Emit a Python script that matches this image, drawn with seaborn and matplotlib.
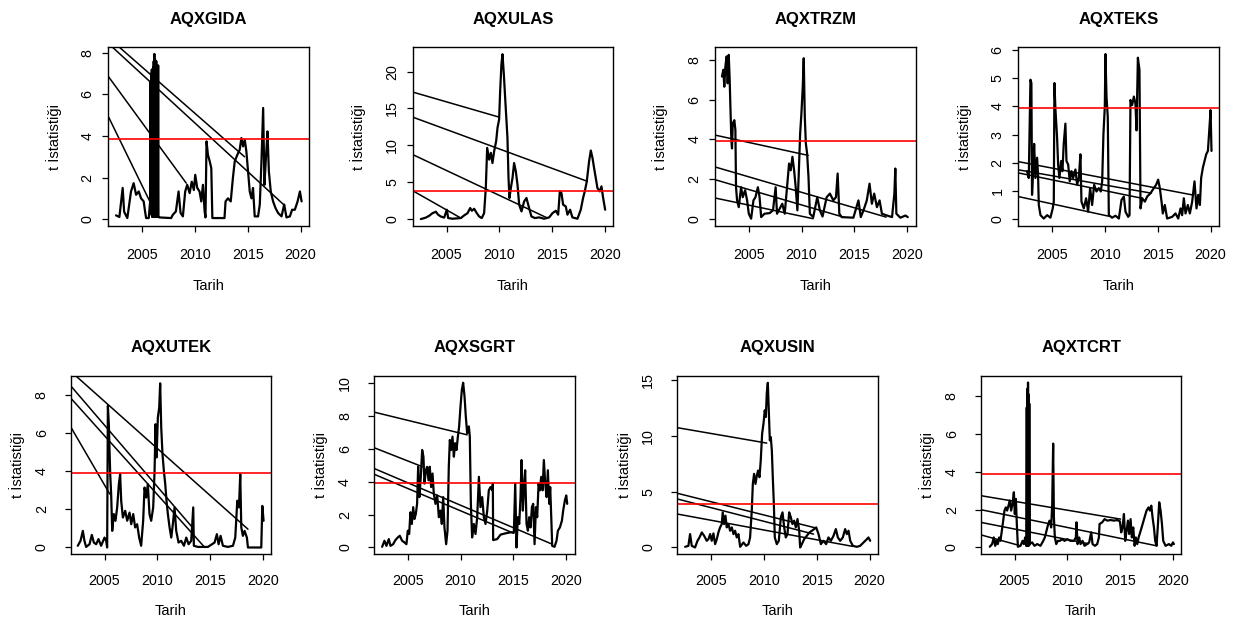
import matplotlib
matplotlib.use('Agg')
import matplotlib.pyplot as plt
import seaborn as sns


# values: (year, t statistic)
gida = [(2002.53, 0.18), (2002.85, 0.1), (2003.16, 1.5), (2003.3, 0.35), (2003.6, 0.05),
        (2003.95, 1.33), (2004.2, 1.73), (2004.43, 1.17), (2004.68, 1.33), (2004.9, 1.0),
        (2005.15, 0.85), (2005.28, 0.37), (2005.38, 0.05), (2005.63, 0.05), (2005.76, 0.85),
        (2005.80, 6.6), (2005.83, 0.4), (2005.86, 7.0), (2005.89, 0.2), (2005.92, 7.2),
        (2005.95, 0.1), (2005.98, 7.1), (2006.01, 0.2), (2006.04, 7.3), (2006.07, 0.1),
        (2006.10, 7.6), (2006.13, 0.3), (2006.16, 7.95), (2006.19, 0.1), (2006.22, 7.7),
        (2006.25, 0.2), (2006.28, 7.5), (2006.31, 0.1), (2006.34, 7.6), (2006.37, 0.2),
        (2006.40, 7.4), (2006.43, 0.1), (2006.46, 7.2), (2006.49, 0.2), (2006.52, 7.4),
        (2006.55, 0.1), (2006.65, 0.08), (2007.75, 0.05), (2007.9, 0.2), (2008.2, 0.37),
        (2008.45, 1.33), (2008.64, 0.3), (2008.86, 0.13), (2009.08, 1.33), (2009.27, 1.65),
        (2009.5, 1.25), (2009.7, 1.8), (2009.9, 1.4), (2010.03, 2.13), (2010.22, 1.5),
        (2010.44, 1.33), (2010.6, 0.85), (2010.76, 1.65), (2010.92, 0.37), (2011.0, 0.08),
        (2011.1, 3.74), (2011.23, 3.1), (2011.4, 2.78), (2011.55, 2.45), (2011.65, 0.05),
        (2012.8, 0.05), (2012.9, 0.85), (2013.13, 1.0), (2013.39, 0.85), (2013.6, 2.0),
        (2013.77, 2.78), (2014.02, 3.1), (2014.24, 3.34), (2014.4, 3.9), (2014.56, 3.5),
        (2014.72, 3.82), (2014.87, 3.26), (2015.03, 2.3), (2015.19, 1.33), (2015.35, 1.0),
        (2015.5, 1.5), (2015.66, 0.13), (2015.98, 0.13), (2016.14, 0.7), (2016.3, 2.78),
        (2016.46, 5.35), (2016.58, 1.65), (2016.74, 3.1), (2016.87, 4.22), (2017.0, 2.3),
        (2017.18, 1.33), (2017.4, 0.85), (2017.63, 0.53), (2017.88, 0.29), (2018.2, 0.13),
        (2018.45, 0.7), (2018.67, 0.08), (2018.99, 0.13), (2019.2, 0.45), (2019.46, 0.45),
        (2019.72, 0.85), (2019.94, 1.33), (2020.1, 0.85)]
gida_seg = [(2001.8, 4.94, 2005.7, 0.88), (2001.8, 6.87, 2009.18, 1.73),
            (2001.8, 8.46, 2018.5, 0.65), (2001.8, 8.74, 2014.7, 3.0)]

ulas = [(2002.57, 0.0), (2003.04, 0.2), (2003.36, 0.45), (2003.67, 0.8), (2003.99, 1.0),
        (2004.2, 0.6), (2004.46, 0.35), (2004.78, 0.2), (2005.03, 1.27), (2005.16, 0.14),
        (2005.57, 0.05), (2006.36, 0.14), (2006.67, 0.5), (2006.99, 0.8), (2007.24, 1.5),
        (2007.4, 1.13), (2007.62, 1.4), (2007.87, 0.8), (2008.09, 0.36), (2008.34, 0.14),
        (2008.56, 0.8), (2008.72, 4.2), (2008.85, 9.66), (2009.04, 8.07), (2009.2, 8.98),
        (2009.35, 7.6), (2009.51, 9.2), (2009.7, 10.57), (2009.83, 12.4), (2009.98, 13.5),
        (2010.08, 17.4), (2010.2, 21.0), (2010.3, 22.36), (2010.43, 19.6), (2010.55, 16.5),
        (2010.68, 13.3), (2010.77, 11.0), (2010.87, 5.6), (2010.96, 2.86), (2011.09, 4.2),
        (2011.25, 5.6), (2011.4, 7.6), (2011.56, 6.5), (2011.72, 4.67), (2011.88, 1.95),
        (2012.1, 1.04), (2012.35, 2.4), (2012.57, 2.86), (2012.82, 1.5), (2013.04, 0.36),
        (2013.36, 0.14), (2013.77, 0.23), (2014.24, 0.05), (2014.72, 0.23), (2015.03, 0.8),
        (2015.35, 1.13), (2015.57, 0.6), (2015.73, 3.76), (2015.88, 3.54), (2016.04, 1.95),
        (2016.29, 1.72), (2016.45, 0.6), (2016.7, 1.27), (2016.92, 0.23), (2017.4, 0.05),
        (2017.71, 1.27), (2017.93, 2.86), (2018.09, 3.76), (2018.28, 5.1), (2018.5, 7.85),
        (2018.66, 9.3), (2018.82, 8.3), (2018.97, 6.94), (2019.13, 5.58), (2019.29, 4.2),
        (2019.51, 3.76), (2019.67, 4.44), (2019.83, 2.86), (2020.02, 1.27)]
ulas_seg = [(2001.8, 17.23, 2009.98, 13.83), (2001.8, 13.83, 2018.34, 5.12),
            (2001.8, 8.75, 2014.56, 0.14), (2001.8, 3.85, 2006.36, 0.14)]

trzm = [(2002.46, 7.16), (2002.59, 7.5), (2002.68, 6.65), (2002.78, 7.66), (2002.9, 8.17),
        (2003.0, 6.82), (2003.1, 8.25), (2003.19, 7.0), (2003.25, 5.8), (2003.35, 3.97),
        (2003.41, 3.55), (2003.48, 4.8), (2003.63, 4.97), (2003.73, 4.47), (2003.79, 1.6),
        (2003.89, 0.94), (2004.05, 0.6), (2004.27, 1.6), (2004.43, 1.1), (2004.65, 1.45),
        (2004.84, 0.94), (2005.0, 0.27), (2005.22, 0.02), (2005.44, 0.94), (2005.63, 1.1),
        (2005.86, 1.6), (2006.02, 1.1), (2006.17, 0.1), (2006.49, 0.27), (2006.97, 0.3),
        (2007.29, 0.44), (2007.54, 1.6), (2007.67, 0.27), (2007.92, 0.52), (2008.17, 0.77),
        (2008.4, 0.27), (2008.62, 1.6), (2008.81, 2.79), (2008.97, 2.45), (2009.13, 3.13),
        (2009.29, 2.45), (2009.44, 1.6), (2009.6, 0.44), (2009.73, 2.29), (2009.86, 4.3),
        (2009.98, 5.3), (2010.11, 6.66), (2010.2, 8.08), (2010.3, 5.14), (2010.4, 3.8),
        (2010.52, 3.29), (2010.65, 2.12), (2010.78, 0.27), (2011.1, 0.1), (2011.48, 1.1),
        (2011.73, 0.44), (2011.98, 0.13), (2012.37, 1.1), (2012.68, 1.28), (2013.0, 0.94),
        (2013.25, 1.1), (2013.41, 2.29), (2013.57, 0.27), (2013.79, 0.1), (2014.9, 0.07),
        (2015.38, 0.94), (2015.6, 0.1), (2015.86, 0.44), (2016.17, 0.94), (2016.43, 1.78),
        (2016.65, 0.77), (2016.87, 1.28), (2017.13, 0.6), (2017.38, 0.94), (2017.6, 0.27),
        (2018.08, 0.18), (2018.56, 0.1), (2018.78, 1.28), (2018.87, 2.54), (2018.97, 0.27),
        (2019.35, 0.07), (2019.83, 0.18), (2020.05, 0.1)]
trzm_seg = [(2001.8, 4.22, 2010.62, 3.2), (2001.8, 2.62, 2018.0, 0.1),
            (2001.8, 1.98, 2013.95, 0.1), (2001.8, 1.06, 2011.1, 0.02)]

teks = [(2002.63, 1.7), (2002.79, 1.46), (2002.95, 4.95), (2003.04, 4.83), (2003.1, 0.86),
        (2003.2, 1.7), (2003.3, 2.67), (2003.42, 1.46), (2003.58, 2.18), (2003.67, 1.58),
        (2003.74, 0.5), (2003.9, 0.14), (2004.21, 0.02), (2004.53, 0.14), (2004.84, 0.05),
        (2005.06, 0.38), (2005.16, 0.62), (2005.22, 4.83), (2005.32, 3.87), (2005.47, 2.9),
        (2005.57, 1.94), (2005.69, 1.46), (2005.85, 2.06), (2005.98, 1.7), (2006.1, 2.67),
        (2006.26, 3.39), (2006.36, 2.06), (2006.52, 1.94), (2006.67, 1.34), (2006.83, 1.7),
        (2006.99, 1.46), (2007.21, 1.76), (2007.37, 1.22), (2007.53, 1.46), (2007.68, 2.3),
        (2007.78, 0.62), (2008.0, 0.38), (2008.22, 0.74), (2008.41, 0.26), (2008.6, 1.1),
        (2008.79, 0.5), (2008.98, 1.22), (2009.2, 0.98), (2009.42, 1.1), (2009.61, 0.98),
        (2009.74, 1.34), (2009.86, 3.02), (2009.99, 3.99), (2010.05, 5.86), (2010.15, 4.35),
        (2010.27, 3.63), (2010.37, 0.14), (2010.68, 0.05), (2011.0, 0.12), (2011.32, 0.02),
        (2011.57, 0.68), (2011.79, 0.8), (2011.95, 0.26), (2012.2, 0.08), (2012.33, 0.14),
        (2012.42, 4.23), (2012.58, 4.05), (2012.74, 4.35), (2012.89, 4.1), (2012.99, 3.15),
        (2013.12, 5.73), (2013.27, 5.3), (2013.37, 0.38), (2013.53, 0.74), (2013.78, 0.62),
        (2014.0, 0.8), (2014.32, 0.92), (2014.63, 1.1), (2014.85, 1.22), (2015.04, 1.4),
        (2015.2, 1.1), (2015.36, 0.62), (2015.48, 0.2), (2015.67, 0.5), (2015.89, 0.02),
        (2016.37, 0.08), (2016.68, 0.2), (2016.94, 0.02), (2017.16, 0.38), (2017.31, 0.14),
        (2017.47, 0.74), (2017.63, 0.2), (2017.85, 0.5), (2018.04, 0.2), (2018.26, 0.62),
        (2018.48, 1.34), (2018.67, 0.38), (2018.83, 0.86), (2018.99, 0.5), (2019.11, 1.46),
        (2019.27, 1.82), (2019.43, 2.06), (2019.59, 2.3), (2019.75, 2.42), (2019.9, 3.27),
        (2020.0, 3.87), (2020.09, 2.42)]
teks_seg = [(2001.8, 2.04, 2018.26, 0.86), (2001.8, 1.75, 2014.4, 0.92),
            (2001.8, 1.64, 2013.5, 0.74), (2001.8, 0.8, 2010.4, 0.1)]

utek = [(2002.47, 0.09), (2002.73, 0.35), (2002.95, 0.87), (2003.1, 0.35), (2003.26, 0.03),
        (2003.58, 0.17), (2003.8, 0.66), (2003.99, 0.26), (2004.21, 0.17), (2004.43, 0.44),
        (2004.68, 0.09), (2005.0, 0.52), (2005.16, 0.35), (2005.25, 0.0), (2005.32, 7.42),
        (2005.41, 6.46), (2005.54, 3.84), (2005.63, 2.8), (2005.73, 0.87), (2005.88, 1.75),
        (2006.04, 1.4), (2006.2, 2.1), (2006.36, 3.32), (2006.48, 3.84), (2006.58, 2.45),
        (2006.74, 1.57), (2006.96, 1.92), (2007.15, 1.4), (2007.37, 1.83), (2007.53, 1.22),
        (2007.72, 1.75), (2007.9, 1.05), (2008.09, 1.22), (2008.28, 0.52), (2008.47, 0.09),
        (2008.66, 1.4), (2008.79, 3.14), (2008.95, 2.62), (2009.1, 3.32), (2009.26, 1.75),
        (2009.42, 1.4), (2009.61, 2.1), (2009.74, 4.02), (2009.83, 6.46), (2009.93, 4.72),
        (2010.05, 6.81), (2010.18, 7.34), (2010.27, 8.6), (2010.37, 6.29), (2010.49, 4.89),
        (2010.62, 4.02), (2010.75, 3.32), (2010.87, 2.45), (2011.0, 1.75), (2011.16, 1.05),
        (2011.32, 0.52), (2011.47, 1.22), (2011.63, 2.1), (2011.79, 0.87), (2012.01, 0.26),
        (2012.26, 0.35), (2012.52, 0.09), (2012.74, 0.52), (2012.96, 0.17), (2013.21, 0.35),
        (2013.4, 2.1), (2013.46, 0.09), (2013.84, 0.03), (2014.79, 0.03), (2015.42, 0.26),
        (2015.64, 0.7), (2015.8, 0.17), (2015.99, 0.61), (2016.21, 0.09), (2016.68, 0.03),
        (2017.16, 0.09), (2017.38, 0.52), (2017.57, 2.45), (2017.73, 2.1), (2017.85, 3.84),
        (2017.95, 1.05), (2018.1, 0.61), (2018.26, 0.87), (2018.48, 0.52), (2018.58, 0.0),
        (2019.84, 0.0), (2019.94, 2.18), (2020.06, 1.4)]
utek_seg = [(2001.8, 6.32, 2005.5, 2.8), (2001.8, 7.83, 2014.5, 0.0),
            (2001.8, 8.47, 2013.4, 1.0), (2001.8, 9.23, 2018.58, 0.96)]

sgrt = [(2002.57, 0.04), (2002.79, 0.41), (2002.98, 0.1), (2003.2, 0.51), (2003.36, 0.1),
        (2003.61, 0.2), (2003.83, 0.45), (2004.05, 0.61), (2004.24, 0.71), (2004.46, 0.41),
        (2004.68, 0.31), (2004.87, 0.2), (2005.0, 1.02), (2005.13, 0.82), (2005.25, 2.14),
        (2005.38, 1.43), (2005.51, 2.45), (2005.63, 1.73), (2005.76, 2.04), (2005.88, 2.65),
        (2005.98, 4.9), (2006.1, 3.06), (2006.23, 4.29), (2006.36, 5.92), (2006.48, 5.51),
        (2006.58, 3.88), (2006.71, 4.69), (2006.83, 4.9), (2006.96, 4.08), (2007.08, 4.9),
        (2007.21, 3.67), (2007.34, 4.49), (2007.46, 3.27), (2007.62, 2.65), (2007.78, 3.16),
        (2007.94, 1.84), (2008.09, 2.24), (2008.22, 1.43), (2008.35, 3.06), (2008.47, 1.22),
        (2008.63, 0.2), (2008.76, 1.02), (2008.88, 4.9), (2008.98, 6.53), (2009.1, 5.92),
        (2009.23, 6.73), (2009.36, 5.51), (2009.48, 6.33), (2009.61, 5.92), (2009.74, 6.73),
        (2009.86, 7.35), (2009.99, 8.57), (2010.12, 9.59), (2010.24, 10.0), (2010.37, 9.18),
        (2010.49, 7.96), (2010.62, 6.94), (2010.78, 7.35), (2010.87, 6.73), (2010.97, 2.65),
        (2011.09, 0.61), (2011.25, 1.43), (2011.41, 0.82), (2011.57, 1.84), (2011.73, 4.29),
        (2011.88, 2.45), (2012.04, 3.06), (2012.2, 1.84), (2012.36, 1.43), (2012.52, 2.24),
        (2012.67, 3.47), (2012.83, 3.67), (2012.99, 3.47), (2013.05, 3.88), (2013.08, 0.45),
        (2013.46, 0.51), (2013.78, 0.78), (2014.25, 0.86), (2014.73, 0.92), (2015.04, 0.92),
        (2015.17, 3.88), (2015.29, 0.0), (2015.42, 1.84), (2015.55, 1.43), (2015.67, 3.06),
        (2015.77, 5.31), (2015.89, 2.24), (2016.02, 3.88), (2016.11, 4.69), (2016.24, 1.43),
        (2016.37, 1.02), (2016.49, 1.84), (2016.62, 1.22), (2016.75, 2.45), (2016.87, 2.65),
        (2017.0, 0.2), (2017.13, 2.45), (2017.25, 1.84), (2017.38, 3.88), (2017.5, 3.47),
        (2017.63, 4.29), (2017.76, 3.47), (2017.88, 5.31), (2018.01, 3.88), (2018.14, 3.06),
        (2018.26, 4.69), (2018.39, 2.65), (2018.48, 3.67), (2018.58, 1.84), (2018.67, 0.1),
        (2018.89, 0.04), (2019.08, 0.41), (2019.21, 1.02), (2019.4, 1.22), (2019.59, 1.63),
        (2019.71, 2.24), (2019.87, 2.86), (2020.0, 3.16), (2020.09, 2.65)]
sgrt_seg = [(2001.8, 8.22, 2010.62, 6.84), (2001.8, 6.06, 2006.4, 4.9),
            (2001.8, 4.8, 2018.67, 0.2), (2001.8, 4.45, 2015.04, 0.86)]

usin = [(2002.54, 0.06), (2002.85, 0.15), (2003.01, 1.2), (2003.17, 0.15), (2003.48, 0.0),
        (2003.71, 0.6), (2003.9, 0.9), (2004.12, 1.35), (2004.34, 1.05), (2004.59, 0.6),
        (2004.75, 0.75), (2004.91, 1.2), (2005.06, 0.6), (2005.22, 1.26), (2005.38, 0.3),
        (2005.54, 0.75), (2005.69, 1.35), (2005.85, 1.8), (2006.01, 2.1), (2006.1, 3.15),
        (2006.23, 2.1), (2006.36, 2.85), (2006.48, 1.8), (2006.64, 2.1), (2006.8, 1.5),
        (2006.96, 1.8), (2007.12, 1.2), (2007.27, 1.5), (2007.43, 0.9), (2007.59, 1.2),
        (2007.75, 0.06), (2008.06, 0.45), (2008.32, 0.15), (2008.54, 0.3), (2008.69, 0.9),
        (2008.85, 3.3), (2008.95, 5.7), (2009.07, 6.6), (2009.2, 5.7), (2009.33, 6.45),
        (2009.45, 6.9), (2009.58, 6.3), (2009.7, 7.8), (2009.83, 10.2), (2009.96, 11.1),
        (2010.08, 12.3), (2010.18, 11.7), (2010.27, 13.8), (2010.37, 14.76), (2010.46, 12.3),
        (2010.56, 9.6), (2010.65, 9.9), (2010.75, 8.7), (2010.84, 6.3), (2010.94, 3.9),
        (2011.03, 0.9), (2011.22, 0.3), (2011.41, 0.6), (2011.6, 2.7), (2011.76, 3.15),
        (2011.92, 1.8), (2012.07, 0.9), (2012.23, 1.2), (2012.39, 3.15), (2012.55, 2.7),
        (2012.7, 2.1), (2012.86, 2.4), (2013.02, 1.8), (2013.18, 2.55), (2013.34, 1.5),
        (2013.43, 0.0), (2013.59, 0.3), (2013.81, 0.75), (2014.06, 1.05), (2014.31, 1.35),
        (2014.54, 1.5), (2014.76, 1.65), (2014.95, 1.8), (2015.17, 1.2), (2015.39, 0.3),
        (2015.64, 0.6), (2015.89, 0.3), (2016.11, 0.9), (2016.34, 0.6), (2016.59, 1.05),
        (2016.81, 1.65), (2017.0, 0.9), (2017.22, 0.6), (2017.47, 0.9), (2017.69, 1.65),
        (2017.85, 1.2), (2018.01, 1.5), (2018.17, 0.6), (2018.42, 0.15), (2018.8, 0.06),
        (2019.11, 0.15), (2019.43, 0.45), (2019.75, 0.75), (2019.9, 0.9), (2020.06, 0.6)]
usin_seg = [(2001.8, 10.74, 2010.27, 9.36), (2001.8, 4.86, 2014.95, 1.74),
            (2001.8, 4.35, 2014.7, 1.2), (2001.8, 3.0, 2018.4, 0.1)]

tcrt = [(2002.66, 0.04), (2002.88, 0.18), (2003.04, 0.53), (2003.17, 0.09), (2003.29, 0.35),
        (2003.42, 0.18), (2003.55, 0.53), (2003.67, 0.35), (2003.8, 0.88), (2003.93, 1.42),
        (2004.05, 1.95), (2004.18, 2.12), (2004.3, 1.95), (2004.43, 2.21), (2004.56, 2.48),
        (2004.68, 1.95), (2004.81, 2.3), (2004.94, 2.92), (2005.03, 1.77), (2005.13, 2.57),
        (2005.22, 1.24), (2005.32, 0.04), (2005.57, 0.09), (2005.76, 0.35), (2005.88, 0.18),
        (2006.01, 0.53), (2006.1, 0.09), (2006.14, 0.1), (2006.16, 7.4), (2006.18, 0.2),
        (2006.20, 7.9), (2006.22, 0.1), (2006.24, 8.4), (2006.26, 0.2), (2006.28, 8.72),
        (2006.30, 0.1), (2006.32, 8.1), (2006.34, 0.2), (2006.36, 7.9), (2006.38, 0.1),
        (2006.40, 7.6), (2006.42, 0.18), (2006.67, 0.27), (2006.89, 0.09), (2007.15, 0.18),
        (2007.46, 0.09), (2007.72, 0.35), (2007.87, 0.53), (2008.03, 0.88), (2008.19, 1.24),
        (2008.32, 1.42), (2008.47, 1.06), (2008.57, 2.3), (2008.66, 5.49), (2008.73, 1.59),
        (2008.82, 0.53), (2008.95, 0.18), (2009.1, 0.35), (2009.29, 0.35), (2009.52, 0.44),
        (2009.74, 0.35), (2009.99, 0.44), (2010.3, 0.35), (2010.62, 0.35), (2010.81, 0.53),
        (2010.87, 1.33), (2010.97, 0.18), (2011.13, 0.53), (2011.25, 0.18), (2011.44, 0.35),
        (2011.63, 0.09), (2011.88, 0.18), (2012.07, 0.27), (2012.26, 0.8), (2012.39, 0.18),
        (2012.61, 0.09), (2012.83, 0.18), (2012.99, 0.53), (2013.05, 1.24), (2013.3, 1.33),
        (2013.53, 1.5), (2013.78, 1.42), (2014.09, 1.45), (2014.41, 1.42), (2014.73, 1.45),
        (2014.98, 1.38), (2015.1, 0.8), (2015.23, 1.06), (2015.36, 1.77), (2015.48, 0.35),
        (2015.61, 0.88), (2015.74, 1.42), (2015.86, 0.71), (2015.99, 1.5), (2016.11, 0.53),
        (2016.24, 1.06), (2016.37, 0.09), (2016.49, 0.53), (2016.62, 0.18), (2016.75, 0.53),
        (2016.94, 0.88), (2017.13, 1.24), (2017.31, 1.59), (2017.5, 1.95), (2017.69, 2.12),
        (2017.82, 1.95), (2017.95, 2.21), (2018.07, 1.59), (2018.2, 1.06), (2018.32, 0.35),
        (2018.45, 0.09), (2018.58, 1.24), (2018.7, 2.39), (2018.83, 1.95), (2018.96, 1.24),
        (2019.08, 0.35), (2019.3, 0.09), (2019.62, 0.18), (2019.84, 0.09), (2020.0, 0.27),
        (2020.09, 0.18)]
tcrt_seg = [(2001.8, 2.74, 2015.04, 1.5), (2001.8, 2.0, 2018.45, 0.09),
            (2001.8, 1.33, 2012.0, 0.2), (2001.8, 0.67, 2005.57, 0.09)]

titles = ['AQXGIDA', 'AQXULAS', 'AQXTRZM', 'AQXTEKS',
          'AQXUTEK', 'AQXSGRT', 'AQXUSIN', 'AQXTCRT']
series = [gida, ulas, trzm, teks, utek, sgrt, usin, tcrt]
segments = [gida_seg, ulas_seg, trzm_seg, teks_seg, utek_seg, sgrt_seg, usin_seg, tcrt_seg]
crit = [3.87, 3.85, 3.93, 3.93, 3.88, 3.92, 3.90, 3.86]
ytop = [8.27, 23.3, 8.63, 6.1, 9.0, 10.43, 15.4, 9.08]
ystep = [2, 5, 2, 1, 2, 2, 5, 2]
xticks = [2005, 2010, 2015, 2020]

sns.set_theme(style='white')
plt.rcParams['font.family'] = ['Liberation Sans', 'DejaVu Sans']
plt.rcParams['text.color'] = 'black'
plt.rcParams['axes.labelcolor'] = 'black'

W, H = 1233, 623
fig = plt.figure(figsize=(W / 100, H / 100), dpi=100)

# pixel boxes of the plot regions (left, top), both rows
lefts = [108.3, 412.7, 715.0, 1018.3, 70.7, 374.0, 677.3, 980.7]
tops = [47.3] * 4 + [375.7] * 4
bw, bh = 200.7, 178.4

for i in range(8):
    ax = fig.add_axes([lefts[i] / W, 1 - (tops[i] + bh) / H, bw / W, bh / H])
    xs = [p[0] for p in series[i]]
    ys = [p[1] for p in series[i]]
    sns.lineplot(x=xs, y=ys, ax=ax, color='black', linewidth=1.6,
                 sort=False, estimator=None)
    for x0, y0, x1, y1 in segments[i]:
        ax.plot([x0, x1], [y0, y1], color='black', linewidth=1.1)
    ax.axhline(crit[i], color='#ff0000', linewidth=1.2)

    lo = -0.04 * ytop[i] / 1.04
    ax.set_xlim(2001.8, 2020.8)
    ax.set_ylim(lo, ytop[i])
    ax.set_xticks(xticks)
    ax.set_yticks(list(range(0, int(ytop[i]) + 1, ystep[i])))

    for s in ax.spines.values():
        s.set_visible(True)
        s.set_color('black')
        s.set_linewidth(1.0)

    row = 0 if i < 4 else 1
    ax.tick_params(axis='both', bottom=True, left=True, direction='out', length=4.3,
                   width=0.9, color='black', labelsize=10.3, labelcolor='black')
    ax.tick_params(axis='x', pad=11.5 if row == 0 else 10.0)
    ax.tick_params(axis='y', labelrotation=90, pad=5.5 if row == 0 else 11.5)
    for lab in ax.get_yticklabels():
        lab.set_va('center')

    ax.set_title(titles[i], fontsize=12, fontweight='bold', pad=17, color='black')
    ax.set_xlabel('Tarih', fontsize=10.5)
    ax.set_ylabel('t İstatistiği', fontsize=10.5)
    ax.xaxis.set_label_coords(0.5, -0.30 if row == 0 else -0.277)
    ax.yaxis.set_label_coords(-0.232 if row == 0 else -0.228, 0.5)

fig.savefig('out.png', dpi=100)
